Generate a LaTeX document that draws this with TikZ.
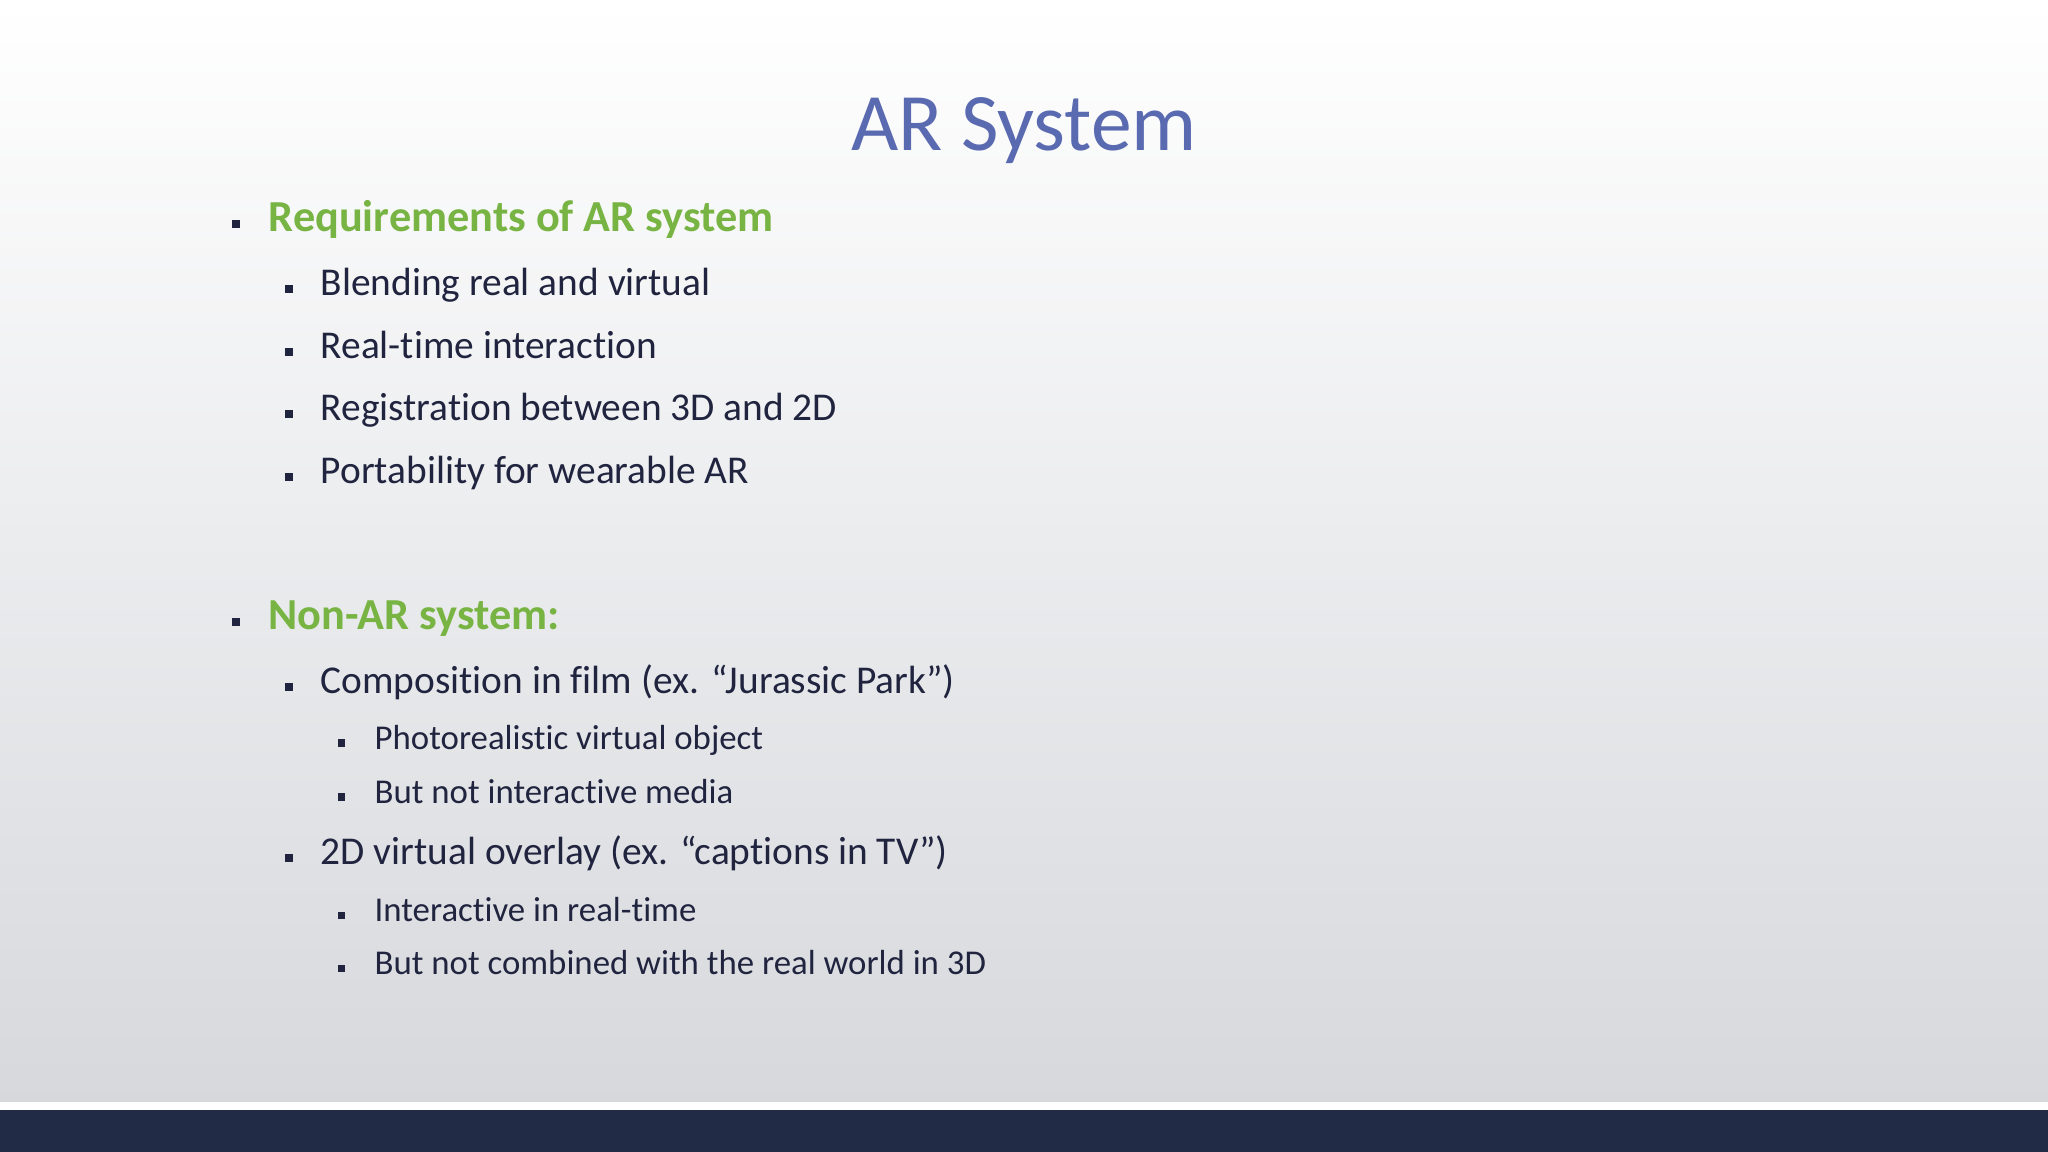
\documentclass[tikz,border=0pt]{standalone}
\usepackage{fontspec}
\setmainfont[Ligatures=NoCommon]{Carlito}
\definecolor{titleblue}{HTML}{5A6AB0}
\definecolor{hgreen}{HTML}{78B443}
\definecolor{txt}{HTML}{20243F}
\definecolor{band}{HTML}{222B45}
\definecolor{bgbot}{HTML}{D6D8DC}
\begin{document}
\begin{tikzpicture}[x=0.01cm,y=-0.01cm,
  bul/.style={fill=txt,minimum size=#1,inner sep=0pt,draw=none},
  fixh/.style={text height=1.6ex,text depth=0.45ex},
  lone/.style={anchor=west,inner sep=0pt,fixh,text=hgreen,font=\fontsize{12.6pt}{15pt}\selectfont\bfseries},
  ltwo/.style={anchor=west,inner sep=0pt,fixh,text=txt,font=\fontsize{11.2pt}{14pt}\selectfont},
  lthree/.style={anchor=west,inner sep=0pt,fixh,text=txt,font=\fontsize{9.9pt}{12pt}\selectfont}]
\useasboundingbox (0,0) rectangle (2048,1152);
\shade[top color=white,bottom color=bgbot] (0,0) rectangle (2048,1106);
\fill[white] (0,1102) rectangle (2048,1110);
\fill[band] (0,1110) rectangle (2048,1152);
\node[text=titleblue,font=\fontsize{23.2pt}{27pt}\selectfont] (title) at (1024,131) {AR System};
% level 1
\node[bul=0.08cm] (b1) at (236,224) {};
\node[lone] (t1) at (268,222) {Requirements of AR system};
\node[bul=0.08cm] (b6) at (236,622) {};
\node[lone] (t6) at (268,620) {Non-AR system:};
% level 2
\foreach \y/\t/\n in {286/Blending real and virtual/2,349/Real-time interaction/3,411/Registration between 3D and 2D/4,474/Portability for wearable AR/5,684/Composition in film (ex. “Jurassic Park”)/7,855/2D virtual overlay (ex. “captions in TV”)/10}{
  \node[bul=0.08cm] (bb\n) at (289,\y+3) {};
  \node[ltwo] (tt\n) at (320,\y) {\t};
}
% level 3
\foreach \y/\t/\n in {740/Photorealistic virtual object/8,794/But not interactive media/9,912/Interactive in real-time/11,965/But not combined with the real world in 3D/12}{
  \node[bul=0.07cm] (bc\n) at (341,\y+3) {};
  \node[lthree] (tc\n) at (374,\y) {\t};
}
\end{tikzpicture}
\end{document}
